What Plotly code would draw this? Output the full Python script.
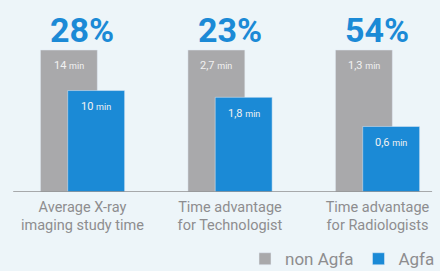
import plotly.graph_objects as go

categories = ["Average X-ray<br>imaging study time", "Time advantage<br>for Technologist", "Time advantage<br>for Radiologists"]
non_agfa_min = [14, 2.7, 1.3]
agfa_min = [10, 1.8, 0.6]
non_agfa_labels = ["14", "2,7", "1,3"]
agfa_labels = ["10", "1,8", "0,6"]
percent_labels = ["28%", "23%", "54%"]

GRAY = "#a9a9ab"
BLUE = "#1b8ad6"
TXT = "#8d8d8f"
BG = "#edf5f9"

x = list(range(len(categories)))
gray_h = [100.0 for _ in non_agfa_min]
blue_h = [a / n * 100.0 for a, n in zip(agfa_min, non_agfa_min)]

fig = go.Figure()
fig.add_trace(go.Bar(x=x, y=gray_h, name="non Agfa", marker_color=GRAY,
                     width=0.386, offset=-0.285, hoverinfo="skip"))
fig.add_trace(go.Bar(x=x, y=blue_h, name="Agfa", marker_color=BLUE,
                     width=0.386, offset=-0.10, hoverinfo="skip"))

ann = []
for i in x:
    ann.append(dict(x=i, y=gray_h[i], yshift=20, text=percent_labels[i], showarrow=False,
                    xref="x", yref="y", yanchor="middle",
                    font=dict(family="Roboto", size=34, color=BLUE, weight="bold")))
    ann.append(dict(x=i - 0.285 + 0.193, y=gray_h[i], yshift=-16,
                    text=non_agfa_labels[i] + " <span style='font-size:9px'>min</span>",
                    showarrow=False, xref="x", yref="y", yanchor="middle",
                    font=dict(family="Roboto", size=11, color="#f2f2f2")))
    ann.append(dict(x=i - 0.10 + 0.193, y=blue_h[i], yshift=-16,
                    text=agfa_labels[i] + " <span style='font-size:9px'>min</span>",
                    showarrow=False, xref="x", yref="y", yanchor="middle",
                    font=dict(family="Roboto", size=11, color="#f2f2f2")))

fig.update_layout(
    width=440, height=271,
    margin=dict(l=0, r=0, t=0, b=79, autoexpand=False),
    paper_bgcolor=BG, plot_bgcolor=BG,
    barmode="overlay",
    showlegend=True,
    legend=dict(orientation="h", x=1.0, xanchor="right", y=-0.35, yanchor="middle",
                font=dict(family="Roboto", size=17, color=TXT), bgcolor="rgba(0,0,0,0)",
                itemwidth=30, tracegroupgap=0),
    xaxis=dict(range=[-0.559, 2.424], tickmode="array", tickvals=x, ticktext=categories,
               showgrid=False, zeroline=False, showline=False, ticks="", automargin=False,
               ticklabelstandoff=4,
               tickfont=dict(family="Roboto", size=14.5, color=TXT)),
    yaxis=dict(range=[0, 135.2], visible=False, showgrid=False, zeroline=False, automargin=False),
    annotations=ann,
    shapes=[dict(type="line", xref="paper", yref="y", x0=0.03, x1=0.982, y0=0, y1=0,
                 line=dict(color="#8f8f91", width=1.5))],
)

fig.write_html("out.html", config={"displayModeBar": False, "staticPlot": True},
               post_script="document.body.style.margin='0';document.body.style.background='" + BG + "';")
